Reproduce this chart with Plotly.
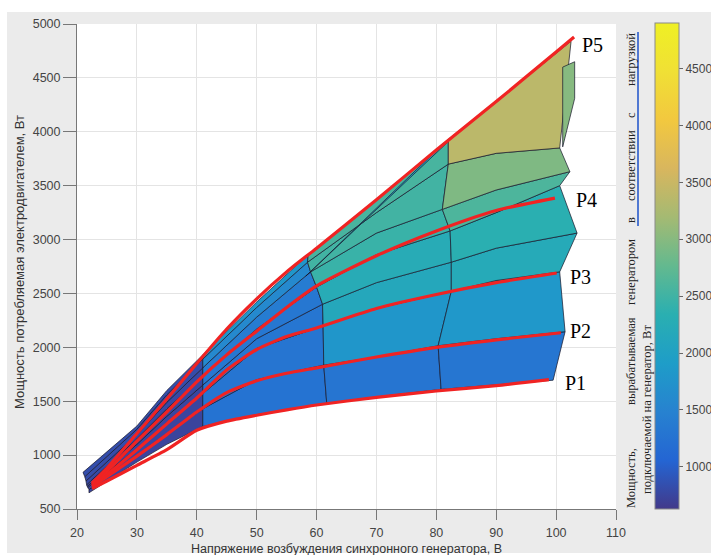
import plotly.graph_objects as go
from plotly.colors import sample_colorscale

# ---------------- data ----------------
# mesh rows of the surface (bottom -> top), voltage U (V) and motor power P (W)
ROW_U = [
    [22.0, 30, 35, 41, 50, 61.7, 70, 80.8, 90, 99.5],
    [22.0, 30, 35, 41, 50, 61.2, 70, 80.3, 90, 101.5],
    [21.8, 30, 35, 41, 50, 61.1, 70, 82.5, 90, 100.6],
    [21.7, 30, 35, 41, 50, 61.0, 70, 82.5, 90, 103.5],
    [21.6, 30, 35, 41, 50, 60.0, 70, 82.3, 90, 100.6],
    [21.5, 30, 35, 41, 50, 59.0, 70, 81.0, 90, 102.3],
    [21.3, 30, 35, 41, 50, 58.5, 70, 82.0, 90, 100.6],
    [21.0, 30, 35, 41, 50, 58.6, 70, 82.0, 90, 102.5],
]
ROW_P = [
    [650, 935, 1100, 1265, 1375, 1480, 1540, 1610, 1655, 1695],
    [680, 1000, 1200, 1430, 1700, 1835, 1910, 2015, 2080, 2145],
    [700, 1060, 1300, 1570, 1990, 2200, 2360, 2520, 2620, 2700],
    [710, 1100, 1360, 1650, 2080, 2400, 2600, 2790, 2920, 3060],
    [725, 1150, 1430, 1730, 2170, 2560, 2860, 3080, 3250, 3500],
    [760, 1190, 1490, 1810, 2280, 2700, 3060, 3280, 3460, 3630],
    [800, 1240, 1560, 1890, 2370, 2790, 3250, 3700, 3800, 3850],
    [840, 1270, 1600, 1930, 2420, 2860, 3370, 3930, 4280, 4840],
]
COL_KNOTS = [0, 3, 5, 7, 9]
# generator power of each surface cell (W), bands bottom->top, columns left->right
CELL_W = [
    [740, 1270, 1290, 1300],
    [750, 1290, 1800, 1830],
    [760, 1300, 2150, 2210],
    [770, 1320, 2250, 2330],
    [790, 1400, 2450, 2600],
    [810, 1600, 2520, 2950],
    [830, 1820, 2560, 3380],
]
# folded facets of the surface (fold strip and right-hand flap)
EXTRA_U = [[58.2, 81.2, 82.3, 59.6], [101.1, 103.1, 103.1, 101.1]]
EXTRA_P = [[2660, 3890, 3925, 2740], [4600, 4650, 4310, 3860]]
EXTRA_W = [1950, 3000]

# red load curves
CURVE_NAMES = ["P1", "P2", "P3", "P4", "P5"]
CURVE_U = [
    [22.5, 25, 30, 35, 40, 45, 50, 55, 60, 70, 80, 90, 98.8],
    [22.5, 25, 30, 35, 40, 45, 50, 55, 60, 70, 80, 90, 100.8],
    [22.5, 25, 30, 35, 40, 45, 50, 55, 60, 70, 80, 90, 100.1],
    [22.5, 25, 30, 35, 40, 45, 50, 55, 60, 70, 80, 90, 99.8],
    [22.5, 25, 30, 35, 40, 45, 50, 55, 60, 70, 80, 90, 100, 103],
]
CURVE_P = [
    [690, 760, 905, 1050, 1230, 1315, 1370, 1420, 1465, 1535, 1595, 1645, 1700],
    [710, 800, 990, 1190, 1400, 1580, 1690, 1760, 1810, 1910, 2000, 2070, 2135],
    [720, 820, 1050, 1290, 1530, 1790, 1980, 2100, 2180, 2360, 2490, 2600, 2690],
    [730, 850, 1130, 1400, 1680, 1930, 2150, 2370, 2570, 2850, 3080, 3270, 3385],
    [740, 880, 1200, 1520, 1850, 2170, 2450, 2700, 2920, 3370, 3830, 4280, 4740, 4880],
]
LABEL_U = [103.3, 104.1, 104.0, 105.1, 106.0]
LABEL_P = [1669, 2151, 2652, 3366, 4804]

CB_TICKS = [1000, 1500, 2000, 2500, 3000, 3500, 4000, 4500]
CMIN, CMAX = 630, 4900

# parula, slightly muted like the printed original
PARULA = [[0, 'rgb(66,57,138)'], [0.1, 'rgb(36,101,211)'], [0.2, 'rgb(39,130,208)'],
          [0.3, 'rgb(30,157,200)'], [0.4, 'rgb(42,175,177)'], [0.5, 'rgb(99,185,143)'],
          [0.6, 'rgb(164,186,115)'], [0.7, 'rgb(216,182,94)'], [0.8, 'rgb(242,200,63)'],
          [0.9, 'rgb(240,224,53)'], [1, 'rgb(239,240,36)']]

SANS = "Liberation Sans"
SERIF = "Liberation Serif"
EDGE = dict(color="rgba(25,25,45,0.9)", width=0.8)

fig = go.Figure()


def color_of(w):
    return sample_colorscale(PARULA, [(w - CMIN) / (CMAX - CMIN)])[0]


# surface cells
for b in range(len(CELL_W)):
    for c in range(len(COL_KNOTS) - 1):
        k0, k1 = COL_KNOTS[c], COL_KNOTS[c + 1]
        xs = ROW_U[b][k0:k1 + 1] + ROW_U[b + 1][k0:k1 + 1][::-1] + [ROW_U[b][k0]]
        ys = ROW_P[b][k0:k1 + 1] + ROW_P[b + 1][k0:k1 + 1][::-1] + [ROW_P[b][k0]]
        fig.add_trace(go.Scatter(x=xs, y=ys, mode="lines", fill="toself",
                                 fillcolor=color_of(CELL_W[b][c]), line=EDGE,
                                 hoverinfo="skip", showlegend=False))

for u, p, w in zip(EXTRA_U, EXTRA_P, EXTRA_W):
    fig.add_trace(go.Scatter(x=u + [u[0]], y=p + [p[0]], mode="lines", fill="toself",
                             fillcolor=color_of(w), line=EDGE,
                             hoverinfo="skip", showlegend=False))

# red curves
for u, p in zip(CURVE_U, CURVE_P):
    fig.add_trace(go.Scatter(x=u, y=p, mode="lines",
                             line=dict(color="rgb(240,35,35)", width=3.2, shape="spline", smoothing=0.6),
                             hoverinfo="skip", showlegend=False))


def px_x(px):
    return (px - 77) / 539.0


def px_y(py):
    return (509 - py) / 485.0


# colorbar carrier
fig.add_trace(go.Scatter(
    x=[None], y=[None], mode="markers",
    marker=dict(color=[CMIN], colorscale=PARULA, cmin=CMIN, cmax=CMAX, showscale=True,
                colorbar=dict(x=px_x(655), xanchor="left", xpad=0,
                              y=px_y(266), yanchor="middle", ypad=0,
                              lenmode="pixels", len=486, thickness=24,
                              outlinecolor="#8a8a8a", outlinewidth=1,
                              tickvals=CB_TICKS, ticks="outside", ticklen=4,
                              tickcolor="#666",
                              tickfont=dict(family=SANS, size=12, color="#444"))),
    hoverinfo="skip", showlegend=False))

annotations = []
for name, u, p in zip(CURVE_NAMES, LABEL_U, LABEL_P):
    annotations.append(dict(x=u, y=p, xref="x", yref="y", text=name, showarrow=False,
                            font=dict(family=SERIF, size=20, color="black"),
                            xanchor="center", yanchor="middle"))

annotations.append(dict(x=px_x(346), y=px_y(549), xref="paper", yref="paper",
                        text="Напряжение возбуждения синхронного генератора, В",
                        showarrow=False, font=dict(family=SANS, size=12.5, color="#333"),
                        xanchor="center", yanchor="middle"))
annotations.append(dict(x=px_x(19), y=px_y(262), xref="paper", yref="paper",
                        text="Мощность потребляемая электродвигателем, Вт", textangle=-90,
                        showarrow=False, font=dict(family=SANS, size=13, color="#333"),
                        xanchor="center", yanchor="middle"))

CB_WORDS = ["Мощность,", "вырабатываемая", "генератором", "в", "соответствии", "с", "нагрузкой"]
CB_WORD_Y = [478, 361, 272, 220, 166, 115, 60]
for w, yy in zip(CB_WORDS, CB_WORD_Y):
    annotations.append(dict(x=px_x(631), y=px_y(yy), xref="paper", yref="paper", text=w,
                            textangle=-90, showarrow=False,
                            font=dict(family=SERIF, size=12.5, color="#222"),
                            xanchor="center", yanchor="middle"))
annotations.append(dict(x=px_x(647), y=px_y(410), xref="paper", yref="paper",
                        text="подключаемой на генератор, Вт", textangle=-90, showarrow=False,
                        font=dict(family=SERIF, size=12.5, color="#222"),
                        xanchor="center", yanchor="middle"))

shapes = [
    dict(type="rect", xref="paper", yref="paper", x0=px_x(0), x1=px_x(711), y0=px_y(12), y1=px_y(0),
         fillcolor="white", line=dict(width=0), layer="above"),
    dict(type="rect", xref="paper", yref="paper", x0=px_x(0), x1=px_x(7), y0=px_y(555), y1=px_y(0),
         fillcolor="white", line=dict(width=0), layer="above"),
    dict(type="rect", xref="paper", yref="paper", x0=px_x(0), x1=px_x(711), y0=px_y(555), y1=px_y(553),
         fillcolor="white", line=dict(width=0), layer="above"),
    dict(type="line", xref="paper", yref="paper", x0=px_x(638), x1=px_x(638), y0=px_y(226), y1=px_y(32),
         line=dict(color="rgb(80,120,210)", width=2), layer="above"),
]

fig.update_layout(
    width=711, height=555,
    margin=dict(l=77, r=95, t=24, b=46, autoexpand=False),
    paper_bgcolor="#ebebeb", plot_bgcolor="white",
    showlegend=False,
    annotations=annotations, shapes=shapes,
    xaxis=dict(range=[20, 110], tick0=20, dtick=10, showgrid=True, gridcolor="#e4e4e4",
               zeroline=False, showline=True, linecolor="#777", linewidth=1,
               ticks="outside", ticklen=10, tickcolor="#777", ticklabelstandoff=2,
               tickfont=dict(family=SANS, size=12.5, color="#444")),
    yaxis=dict(range=[500, 5000], tick0=500, dtick=500, showgrid=True, gridcolor="#e4e4e4",
               zeroline=False, showline=True, linecolor="#777", linewidth=1,
               ticks="outside", ticklen=13, tickcolor="#777",
               tickfont=dict(family=SANS, size=12.5, color="#444")),
)

fig.write_html("out.html")
